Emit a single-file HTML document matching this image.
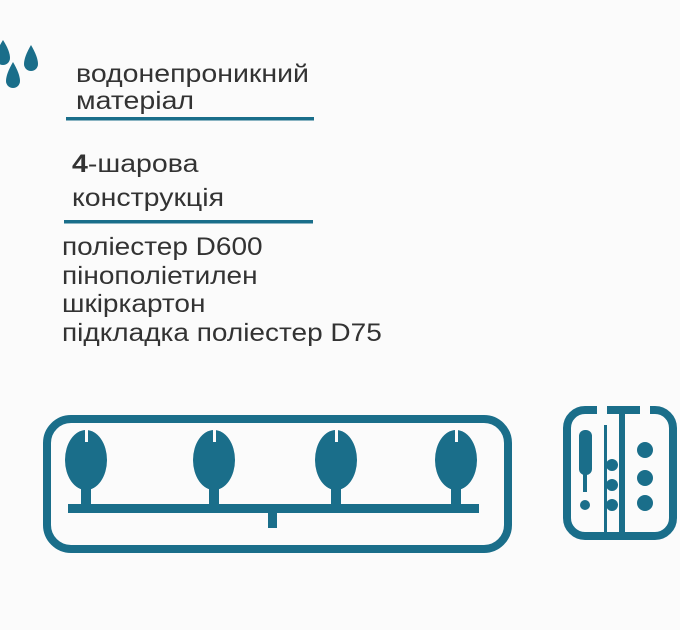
<!DOCTYPE html>
<html><head><meta charset="utf-8"><style>
body{margin:0;width:680px;height:630px;background:#fbfbfb;overflow:hidden;position:relative;font-family:"Liberation Sans",sans-serif;color:#333}
.t{position:absolute;white-space:nowrap;transform-origin:0 0;transform:scaleX(1.14)}
</style></head><body>
<svg width="680" height="630" style="position:absolute;left:0;top:0">
<g fill="#1a6e8a">
<path d="M3 40 q7 11 7 18 a7 7 0 0 1 -14 0 q0 -7 7 -18z"/>
<path d="M31 45 q7 12 7 19 a7 7 0 0 1 -14 0 q0 -7 7 -19z"/>
<path d="M13 62 q7 12 7 19 a7 7 0 0 1 -14 0 q0 -7 7 -19z"/>
</g>
<rect x="66" y="117" width="248" height="3.5" fill="#1a6e8a"/>
<rect x="64" y="220" width="249" height="3.5" fill="#1a6e8a"/>
<rect x="47" y="419" width="461" height="130" rx="24" fill="none" stroke="#1a6e8a" stroke-width="8"/>
<g fill="#1a6e8a">
<rect x="68" y="504" width="411" height="9"/>
<rect x="268" y="510" width="9" height="18"/>
<g id="o"><ellipse cx="86" cy="460" rx="21" ry="30"/><rect x="81" y="484" width="10" height="22"/><rect x="85" y="430" width="3" height="12" fill="#fbfbfb"/></g>
<use href="#o" x="128"/><use href="#o" x="250"/><use href="#o" x="370"/>
</g>
<g fill="none" stroke="#1a6e8a" stroke-width="8">
<path d="M597 410 h-12 a18 18 0 0 0 -18 18 v90 a18 18 0 0 0 18 18 h70 a18 18 0 0 0 18 -18 v-90 a18 18 0 0 0 -18 -18 h-5"/>
<path d="M607 410 h33"/>
</g>
<g fill="#1a6e8a">
<rect x="619" y="410" width="6" height="125"/>
<rect x="604" y="425" width="3" height="110"/>
<rect x="579" y="430" width="13" height="45" rx="6"/>
<rect x="583" y="470" width="4" height="22"/>
<circle cx="585" cy="505" r="5"/>
<circle cx="612" cy="465" r="6"/><circle cx="612" cy="485" r="6"/><circle cx="612" cy="505" r="6"/>
<circle cx="645" cy="450" r="8"/><circle cx="645" cy="478" r="8"/><circle cx="645" cy="503" r="8"/>
</g>
</svg>
<div class="t" style="left:76px;top:61px;font-size:25px;line-height:27px">водонепроникний<br>матеріал</div>
<div class="t" style="left:72px;top:147px;font-size:25px;line-height:34px"><b>4</b>-шарова<br>конструкція</div>
<div class="t" style="left:62px;top:233px;font-size:25px;line-height:28.5px;transform:scaleX(1.12)">поліестер D600<br>пінополіетилен<br>шкіркартон<br>підкладка поліестер D75</div>
</body></html>
